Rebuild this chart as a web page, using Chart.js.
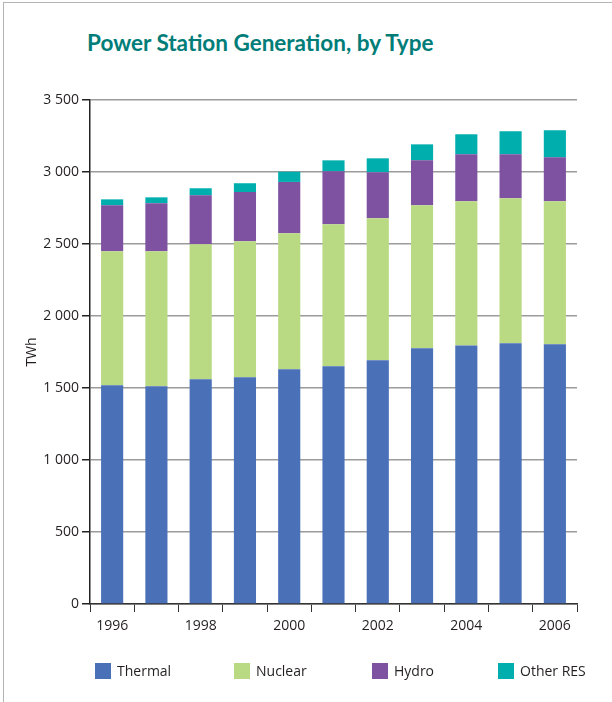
<!DOCTYPE html>
<html lang="en">

<head>
    <meta charset="UTF-8">
    <script src="https://cdn.jsdelivr.net/npm/chart.js"></script>
    <title>Power Station Generation, by Type</title>
    <style>
        * {
            margin: 0px;
            padding: 0px;
        }

        body {
            width: 612px;
            height: 702px;
            position: relative;
            overflow: hidden;
            background: #fff;
            font-family: 'Open Sans', sans-serif;
            color: #231f20;
        }

        .marco {
            position: absolute;
            left: 3px;
            top: 2px;
            right: -2px;
            bottom: -2px;
            border-left: 1.5px solid #b4b4b4;
            border-top: 1.5px solid #b4b4b4;
        }

        .titulo {
            position: absolute;
            left: 87px;
            top: 29px;
            font-family: Lato, sans-serif;
            font-weight: bold;
            font-size: 22.5px;
            line-height: 28px;
            color: #007d78;
            white-space: nowrap;
        }

        .contenedor {
            position: absolute;
            left: 0;
            top: 0;
            width: 612px;
            height: 702px;
        }

        .leyenda {
            position: absolute;
            left: 95px;
            top: 663px;
            display: flex;
            font-size: 14px;
            line-height: 16px;
            white-space: nowrap;
        }

        .leyenda div {
            display: flex;
            align-items: center;
        }

        .leyenda div:nth-child(1) { width: 139px; }
        .leyenda div:nth-child(2) { width: 138px; }
        .leyenda div:nth-child(3) { width: 126px; }

        .leyenda span {
            display: inline-block;
            width: 16px;
            height: 16px;
            margin-right: 6px;
        }
    </style>
</head>

<body>
    <div class="marco"></div>
    <div class="titulo">Power Station Generation, by Type</div>
    <div class="contenedor">
        <canvas id="myChart"></canvas>
    </div>
    <div class="leyenda" id="leyenda"></div>

    <script>
        const anios = ['1996', '1997', '1998', '1999', '2000', '2001', '2002', '2003', '2004', '2005', '2006'];
        const termica = [1519, 1512, 1560, 1574, 1630, 1651, 1692, 1776, 1796, 1810, 1803];
        const nuclear = [930, 937, 938, 945, 944, 986, 986, 993, 1001, 1007, 994];
        const hidro = [320, 334, 340, 342, 357, 368, 320, 312, 326, 306, 305];
        const otras = [41, 41, 49, 61, 71, 76, 97, 111, 139, 160, 188];
        const series = ['Thermal', 'Nuclear', 'Hydro', 'Other RES'];
        const colores = ['#4a71b8', '#b9d982', '#7e52a0', '#00aeae'];

        const ctx = document.getElementById('myChart').getContext('2d');
        Chart.defaults.font.family = "'Open Sans', sans-serif";
        Chart.defaults.font.size = 14;
        Chart.defaults.color = '#231f20';

        const valores = [termica, nuclear, hidro, otras];

        const myChart = new Chart(ctx, {
            type: 'bar',
            data: {
                labels: anios,
                datasets: series.map((nombre, i) => ({
                    label: nombre,
                    data: valores[i],
                    backgroundColor: colores[i],
                    borderWidth: 0,
                    barPercentage: 0.5,
                    categoryPercentage: 1
                }))
            },
            options: {
                responsive: true,
                maintainAspectRatio: false,
                animation: false,
                layout: {
                    padding: { top: 100, left: 20, right: 35, bottom: 58 }
                },
                plugins: {
                    legend: { display: false },
                    tooltip: { enabled: false }
                },
                scales: {
                    x: {
                        stacked: true,
                        afterFit: s => { s.height = 40; },
                        border: { color: '#333', width: 1.5 },
                        grid: {
                            offset: true,
                            drawOnChartArea: false,
                            drawTicks: true,
                            tickLength: 8,
                            tickColor: '#333'
                        },
                        ticks: {
                            autoSkip: false,
                            maxRotation: 0,
                            padding: 6,
                            callback: function (v, i) {
                                return i % 2 === 0 ? this.getLabelForValue(v) : '';
                            }
                        }
                    },
                    y: {
                        stacked: true,
                        min: 0,
                        max: 3500,
                        afterFit: s => { s.width = 70; },
                        border: { color: '#222', width: 1.5 },
                        grid: {
                            color: '#9b9b9b',
                            lineWidth: 1.5,
                            tickLength: 8,
                            tickColor: '#222'
                        },
                        ticks: {
                            stepSize: 500,
                            padding: 3,
                            callback: v => String(v).replace(/\B(?=(\d{3})+(?!\d))/g, ' ')
                        },
                        title: {
                            display: true,
                            text: 'TWh',
                            font: { size: 14 }
                        }
                    }
                }
            }
        });

        // leyenda en HTML para repartir los elementos como en el original
        const leyenda = document.getElementById('leyenda');
        series.forEach((nombre, i) => {
            const item = document.createElement('div');
            const caja = document.createElement('span');
            caja.style.background = colores[i];
            item.appendChild(caja);
            item.appendChild(document.createTextNode(nombre));
            leyenda.appendChild(item);
        });
    </script>
</body>

</html>
